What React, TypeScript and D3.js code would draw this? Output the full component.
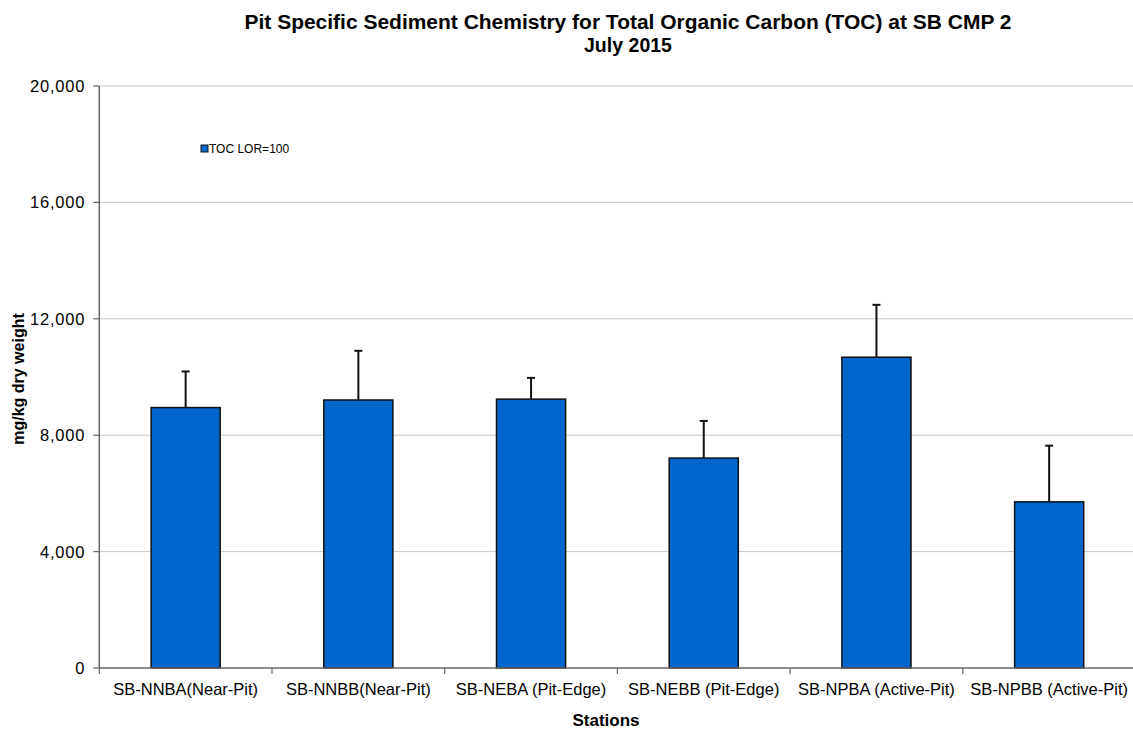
import React, { useEffect } from "react";
import * as d3 from "d3";

const stations = [
  "SB-NNBA(Near-Pit)",
  "SB-NNBB(Near-Pit)",
  "SB-NEBA (Pit-Edge)",
  "SB-NEBB (Pit-Edge)",
  "SB-NPBA (Active-Pit)",
  "SB-NPBB (Active-Pit)",
];
const tocValues = [8950, 9210, 9240, 7215, 10680, 5710];
const tocErrorTops = [10190, 10900, 9970, 8490, 12480, 7640];
const yTicks = [0, 4000, 8000, 12000, 16000, 20000];

const W = 1133;
const H = 731;
const left = 99.3;
const right = 1135.5;
const top = 86;
const bottom = 668;

export default function App() {
  useEffect(() => {
    document.body.style.margin = "0";
  }, []);

  const x = d3.scaleBand<string>().domain(stations).range([left, right]).paddingInner(0).paddingOuter(0);
  const y = d3.scaleLinear().domain([0, 20000]).range([bottom, top]);
  const bw = x.bandwidth() * 0.4;
  const fmt = d3.format(",");
  const font = "'Liberation Sans', Arial, sans-serif";

  return (
    <svg width={W} height={H} style={{ display: "block", background: "#fff" }} fontFamily={font}>
      <text x={628} y={29} textAnchor="middle" fontSize={20} fontWeight="bold" textLength={767} lengthAdjust="spacingAndGlyphs">
        Pit Specific Sediment Chemistry for Total Organic Carbon (TOC) at  SB CMP 2
      </text>
      <text x={628} y={52} textAnchor="middle" fontSize={20} fontWeight="bold" textLength={88} lengthAdjust="spacingAndGlyphs">
        July 2015
      </text>

      {/* gridlines */}
      {yTicks.filter((t) => t > 0).map((t) => (
        <line key={t} x1={left} x2={W} y1={y(t)} y2={y(t)} stroke="#c8c8c8" strokeWidth={1} />
      ))}

      {/* bars */}
      {stations.map((s, i) => {
        const cx = (x(s) as number) + x.bandwidth() / 2;
        return (
          <g key={s}>
            <line x1={cx} x2={cx} y1={y(tocValues[i])} y2={y(tocErrorTops[i])} stroke="#111" strokeWidth={2} />
            <line x1={cx - 4} x2={cx + 4} y1={y(tocErrorTops[i])} y2={y(tocErrorTops[i])} stroke="#111" strokeWidth={2} />
            <rect
              x={cx - bw / 2}
              y={y(tocValues[i])}
              width={bw}
              height={bottom - y(tocValues[i])}
              fill="#0066CC"
              stroke="#111"
              strokeWidth={1.5}
            />
          </g>
        );
      })}

      {/* axes */}
      <line x1={left} x2={left} y1={top} y2={bottom} stroke="#666" strokeWidth={1.5} />
      <line x1={left} x2={W} y1={bottom} y2={bottom} stroke="#666" strokeWidth={1.5} />
      {yTicks.map((t) => (
        <g key={t}>
          <line x1={left - 6} x2={left} y1={y(t)} y2={y(t)} stroke="#666" strokeWidth={1.2} />
          <text x={left - 14} y={y(t) + 6} textAnchor="end" fontSize={16.5} letterSpacing={0.8} fill="#000">
            {fmt(t)}
          </text>
        </g>
      ))}
      {stations.map((s, i) => (
        <line key={"t" + i} x1={x(s) as number} x2={x(s) as number} y1={bottom} y2={bottom + 6} stroke="#666" strokeWidth={1.2} />
      ))}
      {stations.map((s) => (
        <text key={"l" + s} x={(x(s) as number) + x.bandwidth() / 2} y={bottom + 27} textAnchor="middle" fontSize={16.5} fill="#000">
          {s}
        </text>
      ))}

      <text x={606} y={726} textAnchor="middle" fontSize={17} fontWeight="bold">
        Stations
      </text>
      <text transform={`translate(24,${379}) rotate(-90)`} textAnchor="middle" fontSize={16} fontWeight="bold">
        mg/kg dry weight
      </text>

      {/* legend */}
      <rect x={201} y={145} width={7} height={7} fill="#0066CC" stroke="#111" strokeWidth={1} />
      <text x={209} y={153} fontSize={12} fill="#000">
        TOC LOR=100
      </text>
    </svg>
  );
}
